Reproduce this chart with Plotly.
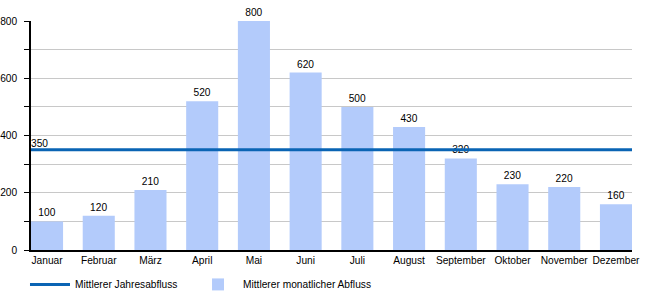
import plotly.graph_objects as go

months = ["Januar", "Februar", "März", "April", "Mai", "Juni", "Juli",
          "August", "September", "Oktober", "November", "Dezember"]
monthly_flow = [100, 120, 210, 520, 800, 620, 500, 430, 320, 230, 220, 160]
annual_mean = 350

bar_name = "Mittlerer monatlicher Abfluss"
line_name = "Mittlerer Jahresabfluss"

FONT = "Liberation Sans, Arial, sans-serif"
FS = 10.2
BARGAP = 0.38
pos = list(range(len(months)))
half = (1 - BARGAP) / 2
xrange_ = [pos[0] - half, pos[-1] + half]

fig = go.Figure()
fig.add_trace(go.Bar(
    x=pos, y=monthly_flow, name=bar_name,
    marker=dict(color="#b3cbfb", line=dict(width=0)),
    text=[str(v) for v in monthly_flow], textposition="outside",
    textfont=dict(size=FS, color="#000000", family=FONT),
    cliponaxis=False, legend="legend2",
))
fig.add_trace(go.Scatter(
    x=xrange_, y=[annual_mean, annual_mean],
    mode="lines+text", name=line_name,
    line=dict(color="#0a64b4", width=3),
    text=[str(annual_mean), ""], textposition="top right",
    textfont=dict(size=FS, color="#000000", family=FONT),
    cliponaxis=False, legend="legend",
))

leg_common = dict(orientation="h", xanchor="left", y=-0.087, yanchor="top",
                  font=dict(size=FS), itemwidth=40, bgcolor="rgba(0,0,0,0)")

fig.update_layout(
    width=650, height=300,
    margin=dict(l=31, r=18, t=21, b=50, autoexpand=False),
    paper_bgcolor="white", plot_bgcolor="white",
    font=dict(family=FONT, size=FS, color="#000000"),
    bargap=BARGAP,
    showlegend=True,
    legend=dict(x=-0.01, **leg_common),
    legend2=dict(x=0.2696, **leg_common),
    xaxis=dict(
        tickmode="array", tickvals=pos, ticktext=months,
        range=xrange_, tickangle=0, automargin=False,
        showline=True, linecolor="#000000", linewidth=1.5,
        ticks="", showgrid=False, zeroline=False,
        tickfont=dict(size=FS),
    ),
    yaxis=dict(
        range=[0, 800], dtick=200, tick0=0, automargin=False,
        showline=True, linecolor="#000000", linewidth=1.5,
        ticks="outside", ticklen=5, tickcolor="#000000",
        ticklabelstandoff=5,
        showgrid=True, gridcolor="#c8c8c8", gridwidth=1,
        zeroline=False,
        minor=dict(dtick=100, ticks="outside", ticklen=5, tickcolor="#000000",
                   showgrid=True, gridcolor="#c8c8c8", gridwidth=1),
        tickfont=dict(size=FS),
    ),
)

fig.write_html("out.html")
